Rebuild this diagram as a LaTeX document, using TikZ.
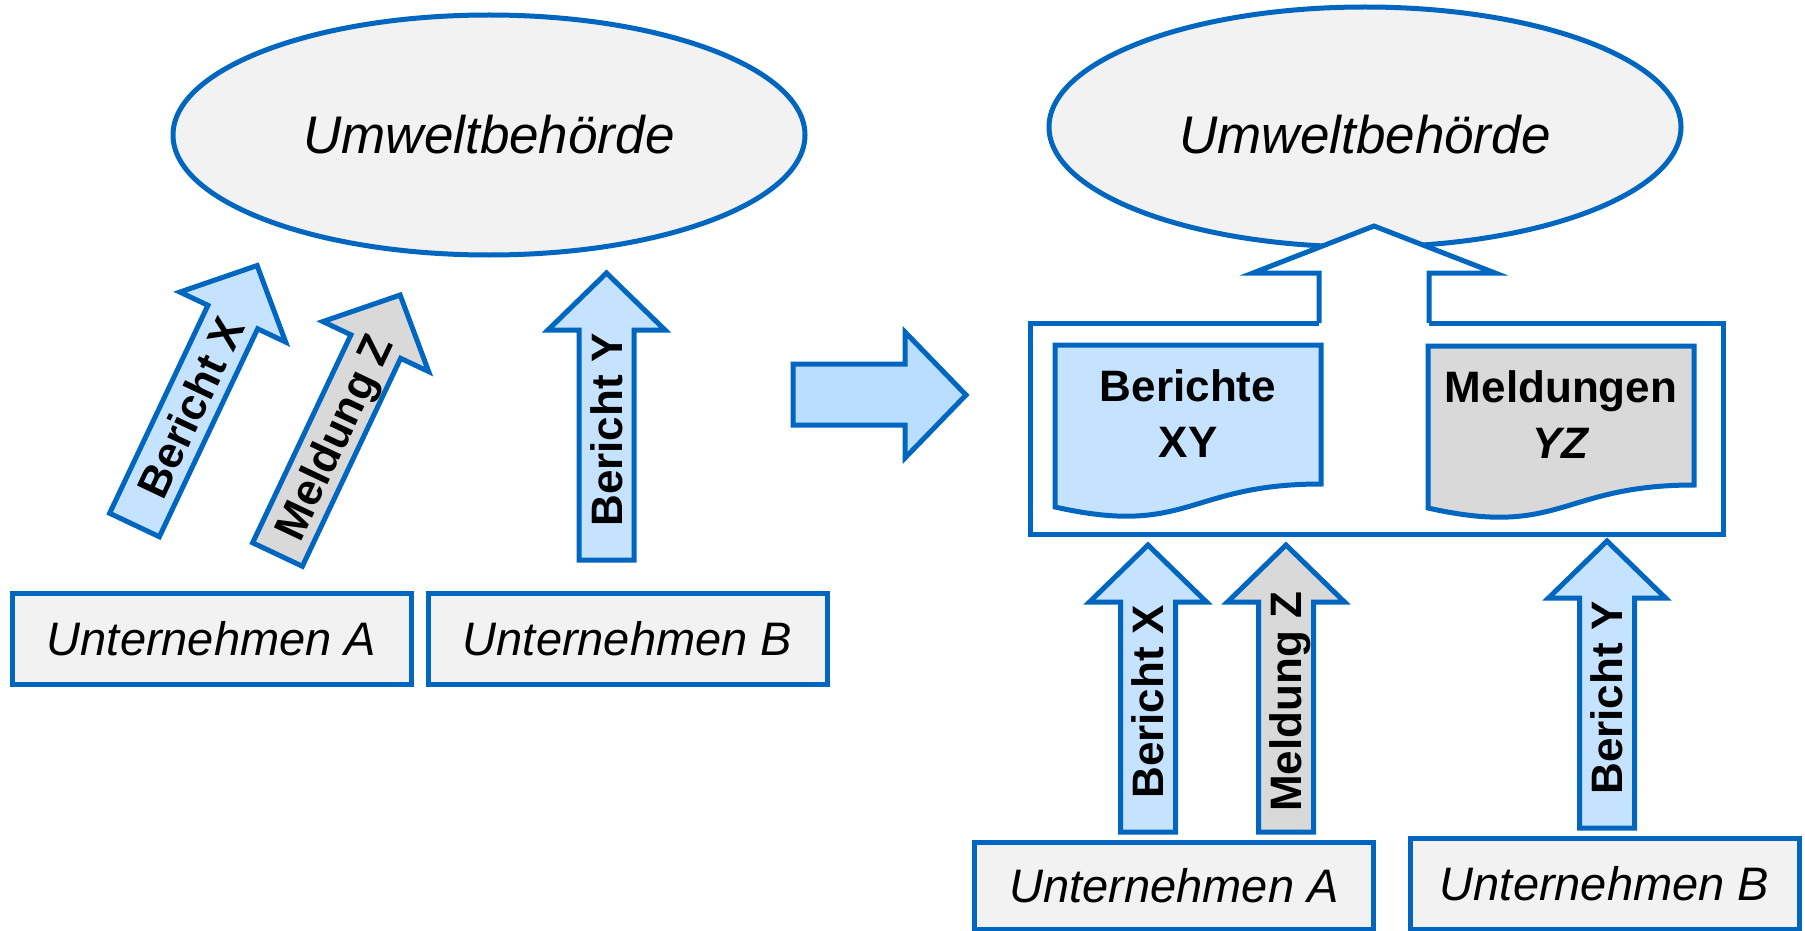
\documentclass[tikz,border=0pt]{standalone}
\usepackage{fontspec}
\setmainfont{Liberation Sans}
\usetikzlibrary{shapes.geometric}
\definecolor{bl}{RGB}{0,102,192}
\definecolor{lblue}{RGB}{197,226,255}
\definecolor{mblue}{RGB}{186,222,255}
\definecolor{gfill}{RGB}{217,217,217}
\definecolor{boxfill}{RGB}{242,242,242}
\begin{document}
\begin{tikzpicture}[x=0.5pt,y=-0.5pt,
  outl/.style={draw=bl, line width=2.5pt, line join=miter},
  firm/.style={outl, fill=boxfill, rectangle, minimum width=199.5pt, minimum height=45.5pt, inner sep=0pt, font=\fontsize{23.5}{28}\selectfont\itshape},
  authority/.style={outl, fill=boxfill, ellipse, minimum width=316pt, minimum height=120pt, inner sep=0pt, font=\fontsize{26.5}{32}\selectfont\itshape},
  lbl/.style={font=\fontsize{22}{28}\selectfont\bfseries, inner sep=0pt, text height=15.75pt, text depth=0pt},
  doctext/.style={align=center, inner sep=0pt, font=\fontsize{22}{28}\selectfont\bfseries},
  blockarrow/.pic={
    \path[outl, fill=#1] (-27.5,0) -- (-27.5,-230) -- (-58.5,-230) -- (0,-287) -- (58.5,-230) -- (27.5,-230) -- (27.5,0) -- cycle;
    \node[lbl, transform shape, rotate=90] (-lbl) at (0,-130) {\tikzpictext};
  },
]
\useasboundingbox (0,0) rectangle (1805,931);

% ---------- left: before ----------
\node[authority] (uwb1) at (489,135) {Umweltbehörde};
\node[firm] (ua1) at (211.5,638.5) {Unternehmen A};
\node[firm] (ub1) at (627.5,639) {Unternehmen B};

\pic[rotate=-25.3, pic text=Bericht X] (lbx) at (134.5,525) {blockarrow=lblue};
\pic[rotate=-25.3, pic text=Meldung Z] (lmz) at (277.5,554.5) {blockarrow=gfill};
\pic[pic text=Bericht Y] (lby) at (606.5,560) {blockarrow=lblue};

% ---------- transition arrow ----------
\path[outl, fill=mblue] (793,364) -- (905,364) -- (905,332) -- (966,395) -- (905,458) -- (905,425) -- (793,425) -- cycle;

% ---------- right: after ----------
\node[authority, text height=27pt, text depth=0pt] (uwb2) at (1365,127) {Umweltbehörde};
\node[outl, rectangle, fill=white, minimum width=346.5pt, minimum height=105.5pt, inner sep=0pt] (sammel) at (1376.5,428.5) {};

% upward white arrow from container to authority
\fill[white] (1319,329) -- (1319,273) -- (1253,273) -- (1374,226) -- (1495,273) -- (1429,273) -- (1429,329) -- cycle;
\draw[outl] (1319,323) -- (1319,273) -- (1253,273) -- (1374,226) -- (1495,273) -- (1429,273) -- (1429,323);

% documents
\path[outl, fill=lblue] (1055,345) -- (1321,345) -- (1321,484) .. controls (1188,484) and (1188,537) .. (1055,507) -- cycle;
\path[outl, fill=gfill] (1428,346) -- (1694,346) -- (1694,485) .. controls (1561,485) and (1561,538) .. (1428,508) -- cycle;
\node[doctext] (berichte) at (1188,414) {Berichte\\XY};
\node[doctext] (meldungen) at (1561,415) {Meldungen\\\textit{YZ}};

\node[firm, minimum height=43.5pt] (ua2) at (1174,885.5) {Unternehmen A};
\node[firm, minimum width=194.5pt] (ub2) at (1604.5,883.5) {Unternehmen B};

\pic[pic text=Bericht X] (rbx) at (1148,832) {blockarrow=lblue};
\pic[pic text=Meldung Z] (rmz) at (1286,832) {blockarrow=gfill};
\pic[pic text=Bericht Y] (rby) at (1607,828) {blockarrow=lblue};
\end{tikzpicture}
\end{document}
